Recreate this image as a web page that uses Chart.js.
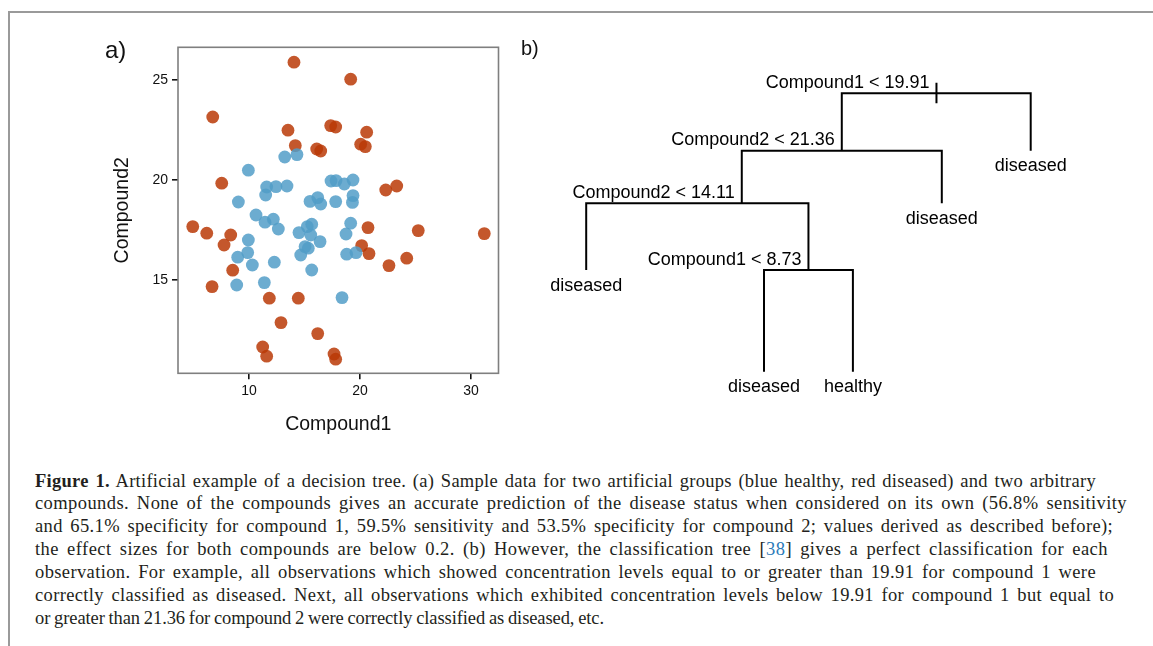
<!DOCTYPE html>
<html>
<head>
<meta charset="utf-8">
<script src="https://cdn.jsdelivr.net/npm/chart.js@4.4.1/dist/chart.umd.min.js"></script>
<style>
  html, body { margin: 0; padding: 0; background: #fff; }
  body { width: 1153px; height: 646px; position: relative; overflow: hidden; }
  #frame { position: absolute; left: 8px; top: 11px; right: -4px; bottom: -4px;
           border-top: 2px solid #9a9a9a; border-left: 2px solid #9a9a9a; }
  #scatter { position: absolute; left: 0; top: 0; }
  #tree { position: absolute; left: 500px; top: 0; }
  .panel { position: absolute; font-family: "Liberation Sans", Arial, sans-serif; color: #111; }
  #labA { left: 105px; top: 36px; font-size: 24px; }
  #labB { left: 521px; top: 37px; font-size: 20px; }
  #caption { position: absolute; left: 35px; top: 469.5px; font-family: "Liberation Serif", "Times New Roman", serif;
             font-size: 18.5px; line-height: 22.9px; color: #231f20; white-space: nowrap; }
  #caption b { font-weight: bold; }
  .cite { color: #2b7bb9; }
</style>
</head>
<body>
<div id="frame"></div>
<canvas id="scatter" width="520" height="450"></canvas>
<canvas id="tree" width="653" height="430"></canvas>
<div class="panel" id="labA">a)</div>
<div class="panel" id="labB">b)</div>
<div id="caption">
  <div><b>Figure 1.</b> Artificial example of a decision tree. (a) Sample data for two artificial groups (blue healthy, red diseased) and two arbitrary</div>
  <div>compounds. None of the compounds gives an accurate prediction of the disease status when considered on its own (56.8% sensitivity</div>
  <div>and 65.1% specificity for compound 1, 59.5% sensitivity and 53.5% specificity for compound 2; values derived as described before);</div>
  <div>the effect sizes for both compounds are below 0.2. (b) However, the classification tree [<span class="cite">38</span>] gives a perfect classification for each</div>
  <div>observation. For example, all observations which showed concentration levels equal to or greater than 19.91 for compound 1 were</div>
  <div>correctly classified as diseased. Next, all observations which exhibited concentration levels below 19.91 for compound 1 but equal to</div>
  <div>or greater than 21.36 for compound 2 were correctly classified as diseased, etc.</div>
</div>
<script>
// sample data: two compounds, healthy (blue) vs diseased (red)
const healthyC1 = [9.94, 13.22, 14.32, 11.59, 12.43, 13.42, 11.5, 9.04, 15.5, 16.19, 16.46, 17.39, 17.84, 18.59, 19.37, 19.37, 19.32, 17.81, 10.63, 11.44, 12.19, 12.64, 9.94, 9.88, 8.98, 10.3, 12.28, 8.89, 11.38, 14.5, 15.25, 15.65, 15.56, 14.66, 15.05, 15.34, 16.4, 15.65, 18.38, 19.16, 18.74, 18.8, 19.64];
const healthyC2 = [20.49, 21.15, 21.27, 19.65, 19.67, 19.7, 19.25, 18.9, 18.93, 19.12, 18.8, 19.95, 19.97, 19.8, 20.0, 19.22, 18.88, 18.92, 18.25, 17.89, 18.04, 17.55, 17.0, 16.37, 16.14, 15.75, 15.89, 14.75, 14.87, 17.37, 17.67, 17.79, 17.25, 16.25, 16.67, 16.59, 16.92, 15.5, 14.12, 17.84, 17.3, 16.29, 16.37];
const diseasedC1 = [14.05, 19.16, 6.73, 13.51, 14.17, 16.1, 16.46, 17.36, 17.81, 20.6, 20.06, 20.48, 7.54, 22.32, 23.31, 4.93, 6.19, 8.35, 7.75, 8.53, 6.67, 11.83, 14.44, 12.88, 16.19, 11.23, 11.59, 17.66, 17.81, 20.72, 25.25, 31.2, 20.15, 20.81, 22.61, 24.21];
const diseasedC2 = [25.89, 25.04, 23.15, 22.49, 21.72, 21.55, 21.45, 22.72, 22.65, 22.39, 21.79, 21.67, 19.84, 19.5, 19.7, 17.67, 17.34, 17.25, 16.75, 15.49, 14.67, 14.09, 14.09, 12.87, 12.32, 11.65, 11.19, 11.3, 11.04, 17.62, 17.47, 17.32, 16.72, 16.32, 15.72, 16.09];
const xTicks = [10, 20, 30];
const yTicks = [15, 20, 25];

// classification tree: split nodes (x = leaf-order position, height = deviance scale)
const splitLabels = ['Compound1 < 19.91', 'Compound2 < 21.36', 'Compound2 < 14.11', 'Compound1 < 8.73'];
const splitX = [3.94, 2.875, 1.75, 2.5];
const splitHeight = [1.0, 0.794, 0.605, 0.365];
const childHeight = [0.794, 0.605, 0.365, 0.0];
// children of each split: ['s', i] = split node, ['l', i] = leaf
const splitChildren = [[['s', 1], ['l', 4]], [['s', 2], ['l', 3]], [['l', 0], ['s', 3]], [['l', 1], ['l', 2]]];
const leafLabels = ['diseased', 'diseased', 'healthy', 'diseased', 'diseased'];
const leafX = [0, 2, 3, 4, 5];
const rootStem = [1.038, 0.964];

// caption lines are spread out to their right edges, part tracking and part word space
const captionEnds = [1096, 1127, 1113, 1108, 1096, 1114, 604];
document.querySelectorAll('#caption > div').forEach((line, i) => {
    line.style.display = 'inline-block';
    const extra = captionEnds[i] - 35 - line.getBoundingClientRect().width;
    const txt = line.textContent.trim();
    const gaps = txt.split(' ').length - 1;
    line.style.letterSpacing = (0.5 * extra / txt.length) + 'px';
    line.style.wordSpacing = (0.5 * extra / gaps) + 'px';
    line.style.display = 'block';
});

const pts = (xs, ys) => xs.map((x, i) => ({ x: x, y: ys[i] }));

const panelBox = {
    id: 'panelBox',
    afterDatasetsDraw(chart) {
        const a = chart.chartArea, ctx = chart.ctx;
        ctx.save();
        ctx.strokeStyle = '#7f7f7f';
        ctx.lineWidth = 1.6;
        ctx.strokeRect(a.left, a.top, a.right - a.left, a.bottom - a.top);
        ctx.restore();
    }
};

new Chart(document.getElementById('scatter'), {
    type: 'scatter',
    data: {
        datasets: [
            { label: 'healthy', data: pts(healthyC1, healthyC2), backgroundColor: 'rgba(82,157,200,0.85)' },
            { label: 'diseased', data: pts(diseasedC1, diseasedC2), backgroundColor: 'rgba(186,58,7,0.85)' }
        ]
    },
    options: {
        responsive: false,
        animation: false,
        devicePixelRatio: 1,
        layout: { padding: { left: 0, top: 47.3, right: 21.5, bottom: 0 } },
        elements: { point: { radius: 6.4, borderWidth: 0, hoverRadius: 6.4 } },
        plugins: { legend: { display: false }, tooltip: { enabled: false } },
        scales: {
            x: {
                type: 'linear', min: 3.6, max: 32.48,
                afterBuildTicks: axis => { axis.ticks = xTicks.map(v => ({ value: v })); },
                afterFit: scale => { scale.height = 76.7; },
                grid: { drawOnChartArea: false, drawTicks: true, tickLength: 6, color: '#111', lineWidth: 1.6 },
                border: { display: false },
                ticks: { color: '#111', padding: 3, font: { family: 'Liberation Sans', size: 14 } },
                title: { display: true, text: 'Compound1', color: '#111', padding: { top: 0, bottom: 13.3 },
                         font: { family: 'Liberation Sans', size: 19.5 } }
            },
            y: {
                type: 'linear', min: 10.335, max: 26.635,
                afterBuildTicks: axis => { axis.ticks = yTicks.map(v => ({ value: v })); },
                afterFit: scale => { scale.width = 178; },
                grid: { drawOnChartArea: false, drawTicks: true, tickLength: 6, color: '#111', lineWidth: 1.6 },
                border: { display: false },
                ticks: { color: '#111', padding: 4, font: { family: 'Liberation Sans', size: 14 } },
                title: { display: true, text: 'Compound2', color: '#111', padding: { top: 111.3, bottom: 0 },
                         font: { family: 'Liberation Sans', size: 19.5 } }
            }
        }
    },
    plugins: [panelBox]
});

// one elbow polyline per split node
const childX = c => (c[0] === 's' ? splitX[c[1]] : leafX[c[1]]);
const treeSets = splitLabels.map((lab, i) => {
    const [l, r] = splitChildren[i];
    return {
        label: lab,
        data: [
            { x: childX(l), y: childHeight[i] },
            { x: childX(l), y: splitHeight[i] },
            { x: childX(r), y: splitHeight[i] },
            { x: childX(r), y: childHeight[i] }
        ]
    };
});
treeSets.push({ label: 'root', data: rootStem.map(h => ({ x: splitX[0], y: h })) });

const treeText = {
    id: 'treeText',
    afterDatasetsDraw(chart) {
        const ctx = chart.ctx, sx = chart.scales.x, sy = chart.scales.y;
        ctx.save();
        ctx.fillStyle = '#000';
        ctx.font = '18px "Liberation Sans"';
        ctx.textBaseline = 'alphabetic';
        ctx.textAlign = 'right';
        splitLabels.forEach((lab, i) => {
            ctx.fillText(lab, sx.getPixelForValue(splitX[i]) - 7, sy.getPixelForValue(splitHeight[i]) - 5.5);
        });
        ctx.textAlign = 'center';
        splitChildren.forEach((kids, i) => {
            kids.forEach(c => {
                if (c[0] !== 'l') return;
                ctx.fillText(leafLabels[c[1]], sx.getPixelForValue(leafX[c[1]]), sy.getPixelForValue(childHeight[i]) + 20.5);
            });
        });
        ctx.restore();
    }
};

new Chart(document.getElementById('tree'), {
    type: 'scatter',
    data: { datasets: treeSets },
    options: {
        responsive: false,
        animation: false,
        devicePixelRatio: 1,
        showLine: true,
        layout: { padding: { left: 41.75, right: 33.4, top: 65.46, bottom: 30.46 } },
        elements: {
            point: { radius: 0, hoverRadius: 0 },
            line: { borderColor: '#000', borderWidth: 2, tension: 0, borderCapStyle: 'butt', borderJoinStyle: 'miter' }
        },
        plugins: { legend: { display: false }, tooltip: { enabled: false } },
        scales: {
            x: { type: 'linear', min: -0.5, max: 6, display: false },
            y: { type: 'linear', min: -0.1, max: 1.1, display: false }
        }
    },
    plugins: [treeText]
});
</script>
</body>
</html>
